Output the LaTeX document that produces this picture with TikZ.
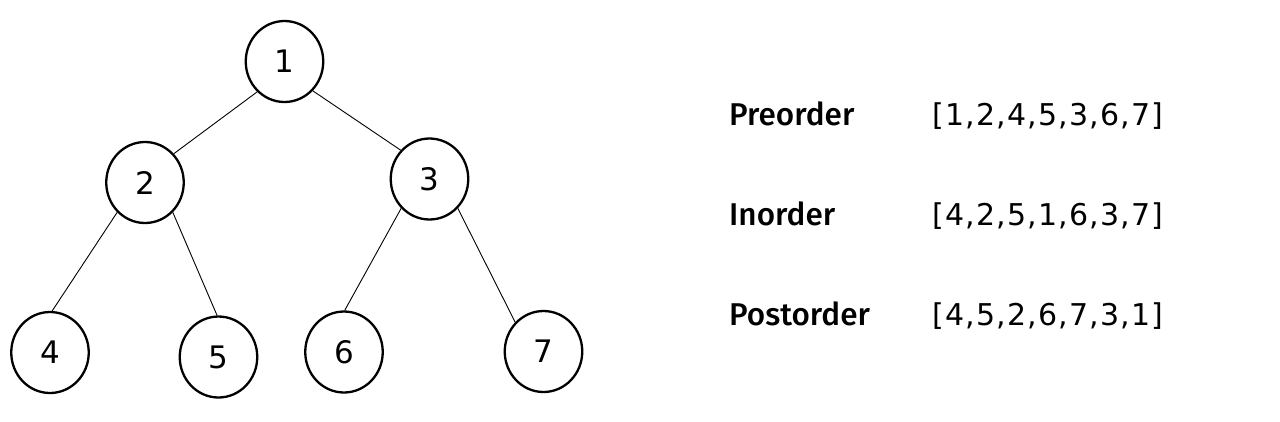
\documentclass[tikz,border=0pt]{standalone}
\usepackage{fontspec}
\setmainfont{DejaVu Sans}
\newfontfamily\labfont{Fira Sans Medium}
\newfontfamily\listfont[LetterSpace=4]{DejaVu Sans}
\usetikzlibrary{shapes.geometric}
\begin{document}
\begin{tikzpicture}[x=1pt,y=-1pt,
  tnode/.style={draw=black,line width=2.3pt,ellipse,minimum width=77.5pt,minimum height=81pt,inner sep=0pt,font=\fontsize{31}{31}\selectfont},
  edge/.style={draw=black,line width=0.9pt},
  lab/.style={anchor=base west,inner sep=0pt,font=\labfont\fontsize{31.5}{31.5}\selectfont},
  lst/.style={anchor=base west,inner sep=0pt,font=\listfont\fontsize{30}{30}\selectfont}]
\useasboundingbox[fill=white] (0,0) rectangle (1280,421);
\node[tnode] (n1) at (284.5,61.5) {1};
\node[tnode] (n2) at (145,182.5) {2};
\node[tnode] (n3) at (429.5,179) {3};
\node[tnode] (n4) at (50,352.5) {4};
\node[tnode] (n5) at (218.5,357) {5};
\node[tnode] (n6) at (344,352) {6};
\node[tnode] (n7) at (543.5,351.5) {7};
\draw[edge] (n1.228) -- (n2.45);
\draw[edge] (n1.314) -- (n3.135);
\draw[edge] (n2.227) -- (n4.87);
\draw[edge] (n2.313) -- (n5.92);
\draw[edge] (n3.226) -- (n6.89);
\draw[edge] (n3.314) -- (n7.134);
\node[lab] (pre) at (729,125) {Preorder};
\node[lab] (in) at (729,225) {Inorder};
\node[lab] (post) at (729,325) {Postorder};
\node[lst] (preL) at (932,125) {[1,2,4,5,3,6,7]};
\node[lst] (inL) at (932,225) {[4,2,5,1,6,3,7]};
\node[lst] (postL) at (932,325) {[4,5,2,6,7,3,1]};
\end{tikzpicture}
\end{document}
